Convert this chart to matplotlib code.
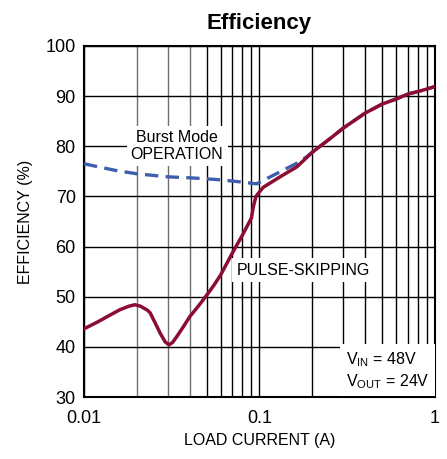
import matplotlib
matplotlib.use("Agg")
import matplotlib.pyplot as plt

plt.rcParams['font.family'] = ['Liberation Sans', 'DejaVu Sans']
plt.rcParams['mathtext.fontset'] = 'custom'
plt.rcParams['mathtext.rm'] = 'Liberation Sans'

# pulse-skipping efficiency curve
ps_load = [0.01, 0.012, 0.014, 0.016, 0.018, 0.0195, 0.021, 0.023, 0.0238, 0.025,
           0.0271, 0.029, 0.0305, 0.032, 0.0337, 0.0368, 0.04, 0.045, 0.05, 0.055,
           0.06, 0.07, 0.08, 0.09, 0.0923, 0.0955, 0.1, 0.105, 0.131, 0.1635, 0.2,
           0.25, 0.3, 0.4, 0.5, 0.6, 0.7, 0.8, 0.9, 1.0]
ps_eff = [43.6, 45.0, 46.3, 47.4, 48.1, 48.4, 48.1, 47.3, 46.8, 45.3,
          42.8, 41.0, 40.4, 40.9, 42.0, 44.0, 46.0, 48.2, 50.3, 52.3,
          54.3, 58.7, 62.3, 65.7, 68.0, 70.0, 70.9, 71.8, 73.9, 75.9, 78.8,
          81.4, 83.6, 86.6, 88.4, 89.4, 90.4, 90.9, 91.4, 91.9]

# burst mode efficiency curve
bm_load = [0.01, 0.015, 0.02, 0.03, 0.04, 0.05, 0.06, 0.0773, 0.0963, 0.131,
           0.163, 0.186, 0.2, 0.25, 0.3, 0.4, 0.5, 0.6, 0.7, 0.8, 0.9, 1.0]
bm_eff = [76.5, 75.2, 74.5, 73.9, 73.7, 73.5, 73.3, 72.9, 72.5, 74.9,
          76.6, 77.9, 78.8, 81.4, 83.6, 86.6, 88.4, 89.4, 90.4, 90.9, 91.4, 91.9]

xticks = [0.01, 0.1, 1]
xticklabels = ['0.01', '0.1', '1']
yticks = [30, 40, 50, 60, 70, 80, 90, 100]

fig = plt.figure(figsize=(4.47, 4.59), dpi=100)
ax = fig.add_axes([0.188, 0.135, 0.785, 0.765])

ax.set_xscale('log')
ax.set_xlim(0.01, 1)
ax.set_ylim(30, 100)

# log grid: lighter lines in the first decade's low end
minor = [m * d for d in (0.01, 0.1) for m in range(2, 10)]
for x in minor:
    c = '#707070' if x < 0.045 else 'black'
    ax.axvline(x, color=c, lw=1.0, zorder=1)
for x in xticks:
    ax.axvline(x, color='black', lw=1.0, zorder=1)
for y in yticks:
    ax.axhline(y, color='black', lw=1.0, zorder=1)

ax.plot(bm_load, bm_eff, color='#3f5fae', lw=2.4, ls=(0, (4, 2.2)), zorder=3)
ax.plot(ps_load, ps_eff, color='#8c0c33', lw=2.5, zorder=4)

ax.set_xticks(xticks)
ax.set_xticklabels(xticklabels)
ax.set_xticks([], minor=True)
ax.set_yticks(yticks)
ax.tick_params(length=0, labelsize=13)
ax.tick_params(axis='x', pad=9)
ax.tick_params(axis='y', pad=6)
for s in ax.spines.values():
    s.set_linewidth(1.5)

ax.set_xlabel('LOAD CURRENT (A)', fontsize=11.5, labelpad=5)
ax.set_ylabel('EFFICIENCY (%)', fontsize=11.5, labelpad=9)
ax.set_title('Efficiency', fontsize=16, fontweight='bold', pad=12)

box = dict(facecolor='white', edgecolor='none', pad=3)
ax.text(0.0339, 80.1, 'Burst Mode\nOPERATION', fontsize=11.5, ha='center',
        va='center', linespacing=1.15, bbox=box, zorder=5)
ax.text(0.177, 55.3, 'PULSE-SKIPPING', fontsize=11.5, ha='center',
        va='center', bbox=box, zorder=5)
ax.text(0.31, 35.3, 'V$_{\\mathrm{IN}}$ = 48V\nV$_{\\mathrm{OUT}}$ = 24V',
        fontsize=11.5, ha='left', va='center', linespacing=1.25,
        bbox=dict(facecolor='white', edgecolor='none', pad=4), zorder=5)

fig.savefig('out.png', dpi=100)
